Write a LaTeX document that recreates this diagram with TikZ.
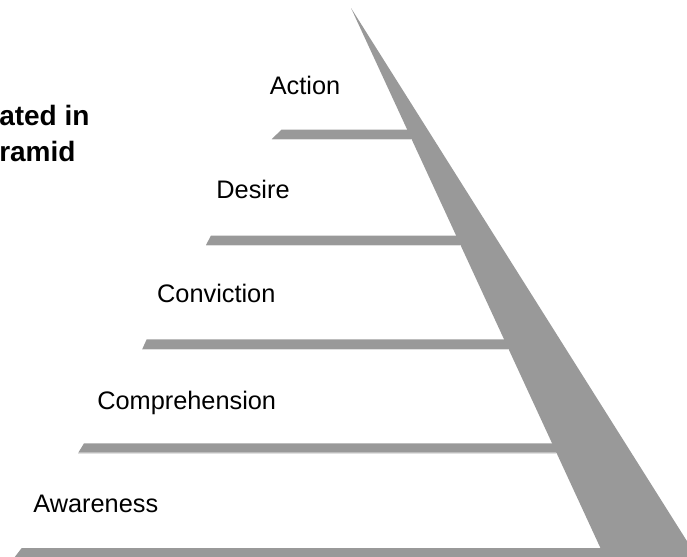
\documentclass[tikz,border=0pt]{standalone}
\usepackage{fontspec}
\setmainfont{Liberation Sans}
\usetikzlibrary{positioning}
\definecolor{stepgray}{RGB}{153,153,153}
\tikzset{%
	wedge/.style={fill=stepgray,draw=none},
	stepbar/.style={fill=stepgray,draw=none},
	barshade/.style={draw=black!12,line width=0.75pt},
	steplabel/.style={anchor=base,inner sep=0pt,font=\fontsize{19}{23}\selectfont},
	titletext/.style={anchor=base west,inner sep=0pt,font=\fontsize{21}{25}\selectfont\bfseries},
}
\begin{document}
\begin{tikzpicture}[x=0.75pt,y=-0.75pt]
				\useasboundingbox (0,0) rectangle (687,557);
				\clip (0,0) rectangle (687,557);
				
				%naslov (odrezan)
				\node[titletext] (title1) at (-1,125) {ated in};
				\node[titletext] (title2) at (-1,161.7) {ramid};
				
				%klin piramide
				\fill[wedge] (351,8) -- (697,557) -- (604.6,557) -- cycle;
				
				%stopnice
				\fill[stepbar] (281.7,129.5) -- (418,129.5) -- (418,139.1) -- (271.7,139.1) -- cycle;
				\draw[barshade] (271.7,139.9) -- (411.6,139.9);
				\fill[stepbar] (211,235.5) -- (470,235.5) -- (470,245) -- (206,245) -- cycle;
				\draw[barshade] (206,245.8) -- (460.5,245.8);
				\fill[stepbar] (146.7,339.3) -- (520,339.3) -- (520,349) -- (142.3,349) -- cycle;
				\draw[barshade] (142.3,349.8) -- (508.5,349.8);
				\fill[stepbar] (84,443.3) -- (570,443.3) -- (570,452.7) -- (78.3,452.7) -- cycle;
				\draw[barshade] (78.3,453.5) -- (556.6,453.5);
				\fill[stepbar] (21.7,548) -- (620,548) -- (620,558) -- (14,558) -- cycle;
				
				%oznake
				\node[steplabel] (action) at (305,94) {Action};
				\node[steplabel] (desire) at (253,198.3) {Desire};
				\node[steplabel] (conviction) at (216.3,302.3) {Conviction};
				\node[steplabel] (comprehension) at (186.7,409.3) {Comprehension};
				\node[steplabel] (awareness) at (95.8,512.7) {Awareness};
			\end{tikzpicture}
\end{document}
